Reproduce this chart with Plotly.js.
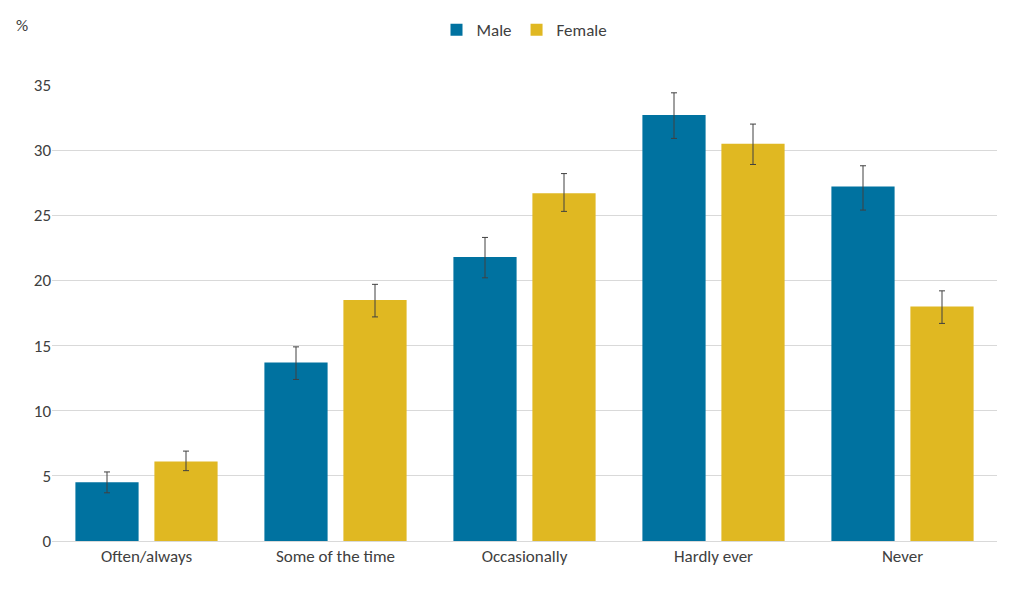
<!DOCTYPE html>
<html>
<head>
<script src="https://cdn.plot.ly/plotly-3.0.1.min.js"></script>
<style>body{margin:0}#chart{width:1013px;height:591px}</style>
</head>
<body>
<div id="chart"></div>
<script>
const categories = ['Often/always', 'Some of the time', 'Occasionally', 'Hardly ever', 'Never'];
const male = [4.5, 13.7, 21.8, 32.7, 27.2];
const maleUp = [0.8, 1.2, 1.5, 1.7, 1.6];
const maleDown = [0.8, 1.3, 1.6, 1.8, 1.8];
const female = [6.1, 18.5, 26.7, 30.5, 18.0];
const femaleUp = [0.8, 1.2, 1.5, 1.5, 1.2];
const femaleDown = [0.7, 1.3, 1.4, 1.6, 1.3];

function errBars(up, down) {
  return {type: 'data', symmetric: false, array: up, arrayminus: down,
          color: '#404040', thickness: 1, width: 3};
}

const traces = [
  {x: categories, y: male, name: 'Male', type: 'bar', marker: {color: '#0072A0'},
   error_y: errBars(maleUp, maleDown)},
  {x: categories, y: female, name: 'Female', type: 'bar', marker: {color: '#E0B822'},
   error_y: errBars(femaleUp, femaleDown)}
];

Plotly.newPlot('chart', traces, {
  width: 1013, height: 591,
  margin: {l: 52, r: 16, t: 62, b: 50},
  font: {family: 'Calibri, Carlito, "Open Sans", sans-serif', size: 17, color: '#404040'},
  barmode: 'group', bargap: 0.164, bargroupgap: 0.2,
  showlegend: true,
  legend: {orientation: 'h', x: 0.5, xanchor: 'center', y: 1.12, yanchor: 'middle', font: {size: 17}},
  xaxis: {showline: true, linecolor: '#d9d9d9', tickfont: {size: 17}},
  yaxis: {range: [0, 35], dtick: 5, gridcolor: '#d9d9d9', zeroline: false, tickfont: {size: 17}},
  annotations: [{text: '%', xref: 'paper', yref: 'paper', x: -0.04, y: 1.13,
                 xanchor: 'left', yanchor: 'middle', showarrow: false, font: {size: 17}}]
}, {displayModeBar: false});
</script>
</body>
</html>
